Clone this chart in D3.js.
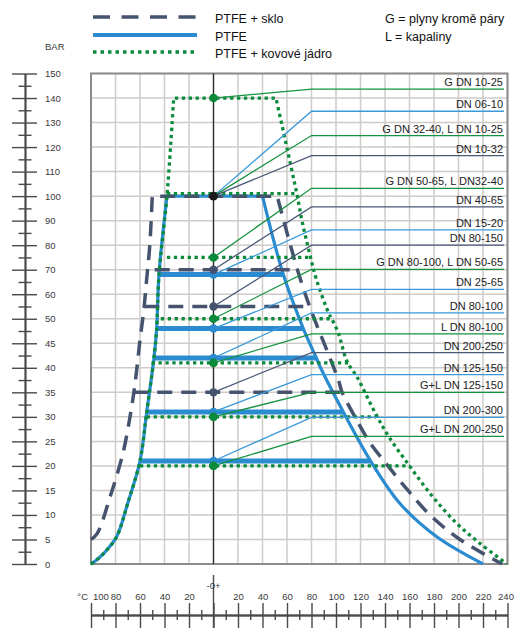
<!DOCTYPE html>
<html><head><meta charset="utf-8">
<script src="https://cdn.jsdelivr.net/npm/d3@7"></script>
<style>
body{margin:0;background:#fff}
svg{display:block}
text{font-family:"Liberation Sans",Arial,Helvetica,sans-serif}
</style>
</head><body>
<script>
// ---------- DATA ----------
const pressureTicks = [0,5,10,15,20,25,30,35,40,45,50,60,70,80,90,100,110,120,130,140,150];
const pressureMinor = [2.5,7.5,12.5,17.5,22.5,27.5,32.5,37.5,42.5,47.5,55,65,75,85,95,105,115,125,135,145];
const tempTicks = [-100,-80,-60,-40,-20,0,20,40,60,80,100,120,140,160,180,200,220,240];
const tempMinor = [-90,-70,-50,-30,-10,10,30,50,70,90,110,130,150,170,190,210,230];

// envelopes [temperature °C, pressure bar]
const ptfeLeft  = [[-100,0],[-95,0.9],[-88,2.6],[-79,5.6],[-70,12.4],[-60,21],[-54.5,31],[-48.6,42],[-46.4,48],[-44.5,68],[-38,100]];
const ptfeRight = [[40,100],[57,68],[73.3,48],[84,42],[88.2,39.6],[106,31],[128.3,21],[152,12.4],[182,5.6],[220,0]];
const skloLeft  = [[-100,5],[-95,6.2],[-84,14],[-74,22.5],[-68.5,29.5],[-65,35],[-62.5,40],[-60,45.7],[-57,53],[-54.5,66.5],[-52,80],[-50,100]];
const skloRight = [[52,100],[68.5,70],[78.5,55],[102,37.5],[105,35],[115.5,30],[127,25],[142.4,20],[158.8,15],[176.7,10],[201.2,5],[235.5,0]];
const jadroLeft  = [[-100,0],[-95,0.9],[-88,2.6],[-79,5.6],[-70,12.4],[-60,21],[-54.5,31],[-48.6,42],[-46.4,48],[-44.5,68],[-38,100],[-32.5,140]];
const jadroRight = [[51,140],[68,101],[72,90.5],[79,75.5],[84,66],[94,52.3],[96.5,50],[102,47],[109,41.3],[117,38.2],[132,30.8],[143,26],[160,20],[179,13.7],[198.5,8.3],[217.5,4.2],[239.5,0]];

// levels [pressure, from °C, to °C]
const ptfeLevels  = [[68,-44.5,57],[48,-46.4,73.3],[42,-48.6,84],[31,-54.5,106],[21,-60,128.3]];
const skloLevels  = [[70,-48,68.5],[55,-56.5,80.2],[35,-65.5,108.6]];
const jadroLevels = [[101,-38,68],[75,-38,80.2],[50,-43,96.5],[41,-50.5,110],[30,-54.5,132.6],[20,-60,160.4]];

// markers on the 0 line
const ptfeDots  = [68,48,42,31,21];
const skloDots  = [70,55,35];
const jadroDots = [140,75,50,41,30,20];
const commonDots = [100];

// right-hand labels
const labelText = ["G DN 10-25","DN 06-10","G DN 32-40, L DN 10-25","DN 10-32","G DN 50-65, L DN32-40","DN 40-65","DN 15-20","DN 80-150","G DN 80-100, L DN 50-65","DN 25-65","DN 80-100","L DN 80-100","DN 200-250","DN 125-150","G+L DN 125-150","DN 200-300","G+L DN 200-250"];
const labelLevel = [143.6,134.6,124.7,116.5,103.2,95.6,86.2,80,70.1,62,52.4,46.9,43.1,38.6,35,29.9,26];
const labelFrom  = [140,100,100,100,75,70,68,55,50,48,42,41,35,31,30,21,20];
const labelSeries = ["jadro","ptfe","jadro","sklo","jadro","sklo","ptfe","sklo","jadro","ptfe","ptfe","jadro","sklo","ptfe","jadro","ptfe","jadro"];

const legendNames = ["PTFE + sklo","PTFE","PTFE + kovové jádro"];
const legendSeries = ["sklo","ptfe","jadro"];
const noteText = ["G = plyny kromě páry","L = kapaliny"];

// ---------- STYLE ----------
const C = {ptfe:"#2b8bd0", sklo:"#46536f", jadro:"#0b8a3b"};
const Cthin = {ptfe:"#3a9ada", sklo:"#4a5878", jadro:"#15913f"};

const svg = d3.select("body").append("svg").attr("width",517).attr("height",628);

const x = d3.scaleLinear().domain([-100,240]).range([91,507.5]);
const y = d3.scaleLinear().domain([0,50,150]).range([564,318.75,73.5]);

// ---------- GRID ----------
const grid = svg.append("g");
grid.selectAll("line.v").data(tempTicks).join("line")
  .attr("x1",d=>x(d)).attr("x2",d=>x(d)).attr("y1",y(150)).attr("y2",y(0))
  .attr("stroke","#cecbc8").attr("stroke-width",1.5);
grid.selectAll("line.h").data(pressureTicks).join("line").attr("class","h")
  .attr("x1",x(-100)).attr("x2",x(240)).attr("y1",d=>y(d)).attr("y2",d=>y(d))
  .attr("stroke","#cecbc8").attr("stroke-width",1.5);
grid.append("rect").attr("x",x(-100)).attr("y",y(150)).attr("width",x(240)-x(-100)).attr("height",y(0)-y(150))
  .attr("fill","none").attr("stroke","#8e8c8a").attr("stroke-width",2);
grid.append("line").attr("x1",x(0)).attr("x2",x(0)).attr("y1",y(150)).attr("y2",y(0))
  .attr("stroke","#2a2a2a").attr("stroke-width",1.3);

// ---------- AXES ----------
function styleAxis(g){ g.selectAll("path,line").attr("stroke","#4a4a4a").attr("stroke-width",1.4);
  g.selectAll("text").attr("font-size","9.5px").attr("fill","#3a3a3a").attr("font-family","Liberation Sans, Arial, sans-serif"); }
const yl = svg.append("g").attr("transform","translate(25,0)")
  .call(d3.axisLeft(y).tickValues(pressureTicks).tickSize(13).tickSizeOuter(0).tickFormat(""));
const yr = svg.append("g").attr("transform","translate(25,0)")
  .call(d3.axisRight(y).tickValues(pressureTicks).tickSize(12).tickSizeOuter(0).tickPadding(8).tickFormat(d=>d));
const yml = svg.append("g").attr("transform","translate(25,0)")
  .call(d3.axisLeft(y).tickValues(pressureMinor).tickSize(6.5).tickSizeOuter(0).tickFormat(""));
const ymr = svg.append("g").attr("transform","translate(25,0)")
  .call(d3.axisRight(y).tickValues(pressureMinor).tickSize(6.5).tickSizeOuter(0).tickFormat(""));
[yl,yr,yml,ymr].forEach(styleAxis);
svg.append("text").attr("x",45).attr("y",50).attr("font-size","9.5px").attr("fill","#3a3a3a").text("BAR");

const xAxisY = 615;
const xt = svg.append("g").attr("transform",`translate(0,${xAxisY})`)
  .call(d3.axisTop(x).tickValues(tempTicks).tickSize(12).tickSizeOuter(0).tickPadding(3).tickFormat(d=>d===0?"":Math.abs(d)));
const xb = svg.append("g").attr("transform",`translate(0,${xAxisY})`)
  .call(d3.axisBottom(x).tickValues(tempTicks).tickSize(13).tickSizeOuter(0).tickFormat(""));
const xmt = svg.append("g").attr("transform",`translate(0,${xAxisY})`)
  .call(d3.axisTop(x).tickValues(tempMinor).tickSize(5).tickSizeOuter(0).tickFormat(""));
const xmb = svg.append("g").attr("transform",`translate(0,${xAxisY})`)
  .call(d3.axisBottom(x).tickValues(tempMinor).tickSize(5).tickSizeOuter(0).tickFormat(""));
[xt,xb,xmt,xmb].forEach(styleAxis);
xt.selectAll(".tick").filter(d=>d===-100).select("text").attr("text-anchor","start").attr("x",1.5);
xt.selectAll(".tick").filter(d=>d===240).select("text").attr("x",-2);
svg.append("line").attr("x1",x(0)).attr("x2",x(0)).attr("y1",575).attr("y2",628)
  .attr("stroke","#4a4a4a").attr("stroke-width",1.4);
svg.append("text").attr("x",x(0)).attr("y",588.5).attr("text-anchor","middle")
  .attr("font-size","9.5px").attr("fill","#3a3a3a").text("-0+");
svg.append("text").attr("x",88).attr("y",600).attr("text-anchor","end")
  .attr("font-size","9.5px").attr("fill","#3a3a3a").text("°C");

// ---------- SERIES ----------
const curve = d3.line().x(d=>x(d[0])).y(d=>y(d[1])).curve(d3.curveCatmullRom.alpha(0.5));
function envelopeD(left,right){ return curve(left) + curve(right).replace(/^M/,"L"); }

const styles = {
  ptfe:  {w:3.2, lw:5,   dash:null},
  sklo:  {w:3.5, lw:3.5, dash:"15 9"},
  jadro: {w:3.3, lw:3.3, dash:"3.3 3.6"}
};
function drawSeries(key,left,right,levels){
  const s = styles[key];
  const g = svg.append("g").attr("fill","none").attr("stroke",C[key]);
  g.append("path").attr("d",envelopeD(left,right)).attr("stroke-width",s.w)
    .attr("stroke-dasharray",s.dash).attr("stroke-linejoin","miter");
  g.selectAll("line").data(levels).join("line")
    .attr("x1",d=>x(d[1])).attr("x2",d=>x(d[2])).attr("y1",d=>y(d[0])).attr("y2",d=>y(d[0]))
    .attr("stroke-width",s.lw).attr("stroke-dasharray",s.dash);
}
drawSeries("ptfe",ptfeLeft,ptfeRight,ptfeLevels);
drawSeries("sklo",skloLeft,skloRight,skloLevels);
drawSeries("jadro",jadroLeft,jadroRight,jadroLevels);

// ---------- CONNECTORS & LABELS ----------
const bendT = 80, lineEndX = 504;
const conn = svg.append("g").attr("fill","none");
labelText.forEach((t,i)=>{
  const k = labelSeries[i];
  const ly = y(labelLevel[i]);
  conn.append("path")
    .attr("d",`M${x(0)},${y(labelFrom[i])}L${x(bendT)},${ly}L${lineEndX},${ly}`)
    .attr("stroke",Cthin[k]).attr("stroke-width",1.3);
  svg.append("text").attr("x",503).attr("y",ly-3).attr("text-anchor","end")
    .attr("font-size","11px").attr("fill","#222").text(t);
});

// ---------- DOTS ----------
function dots(vals,col,r){
  svg.append("g").selectAll("circle").data(vals).join("circle")
    .attr("cx",x(0)).attr("cy",d=>y(d)).attr("r",r).attr("fill",col);
}
dots(ptfeDots,C.ptfe,4.2);
dots(skloDots,C.sklo,4.2);
dots(jadroDots,C.jadro,4.3);
dots(commonDots,"#1b1b1b",4.4);

// ---------- LEGEND ----------
const legY = [17,35,52];
legendSeries.forEach((k,i)=>{
  svg.append("line").attr("x1",93).attr("x2",197).attr("y1",legY[i]).attr("y2",legY[i])
    .attr("stroke",C[k]).attr("stroke-width", k==="ptfe"?4:3.5)
    .attr("stroke-dasharray", k==="sklo"?"17 11.5":(k==="jadro"?"3.5 4":null));
  svg.append("text").attr("x",215).attr("y",legY[i]+5.5).attr("font-size","12.5px").attr("fill","#111").text(legendNames[i]);
});
noteText.forEach((t,i)=>{
  svg.append("text").attr("x",385).attr("y",legY[i]+5.5).attr("font-size","12.5px").attr("fill","#111").text(t);
});
</script>
</body></html>
